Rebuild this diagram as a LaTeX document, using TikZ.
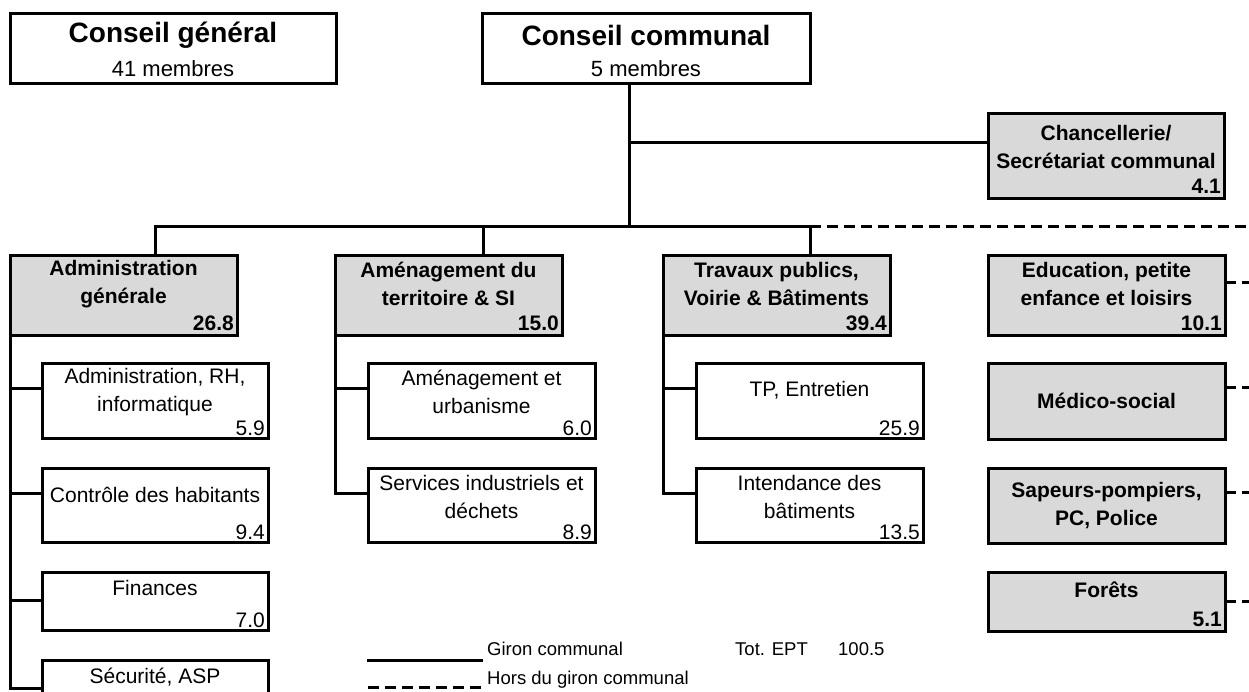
\documentclass[tikz,border=0pt]{standalone}
\usepackage{fontspec}
\setmainfont{Liberation Sans}
\definecolor{servgray}{RGB}{217,217,217}
\newcommand{\titlefnt}{\fontsize{28}{34}\selectfont\bfseries}
\newcommand{\membfnt}{\fontsize{22}{26}\selectfont}
\newcommand{\unitfnt}{\fontsize{21}{28}\selectfont}
\newcommand{\legfnt}{\fontsize{18.5}{22}\selectfont}
\begin{document}
\begin{tikzpicture}[x=1pt,y=-1pt,line join=miter,
	org/.style={draw,line width=3pt,inner sep=0pt,outer sep=0pt,anchor=north west,minimum width=227pt},
	serv/.style={org,fill=servgray},
	lbl/.style={font=\unitfnt,align=center,inner sep=0pt},
	blbl/.style={font=\unitfnt\bfseries,align=center,inner sep=0pt},
	num/.style={font=\unitfnt,anchor=base east,inner sep=0pt},
	bnum/.style={font=\unitfnt\bfseries,anchor=base east,inner sep=0pt},
	leg/.style={font=\legfnt,anchor=base west,inner sep=0pt},
	link/.style={line width=3pt,line cap=rect},
	ext/.style={line width=3pt,dash pattern=on 11pt off 6pt}]
	\useasboundingbox[fill=white] (0,0) rectangle (1249,691);
	\node[org,minimum width=326pt,minimum height=70pt] (cg) at (10,13) {};
	\node[font=\titlefnt] (cg-t) at ([yshift=-22pt]cg.north) {Conseil général};
	\node[font=\membfnt] (cg-m) at ([yshift=-56pt]cg.north) {41 membres};
	\node[org,minimum width=328pt,minimum height=70pt] (cc) at (482,13) {};
	\node[font=\titlefnt] (cc-t) at ([yshift=-22pt]cc.north) {Conseil communal};
	\node[font=\membfnt] (cc-m) at ([yshift=-56pt]cc.north) {5 membres};
	\node[serv,minimum width=236pt,minimum height=85pt] (chan) at (988,113) {};
	\node[blbl] (chan-t) at ([yshift=-34pt]chan.north) {Chancellerie/\\Secrétariat communal};
	\node[bnum] (chan-n) at ([xshift=-3pt,yshift=5pt]chan.south east) {4.1};
	\node[serv,minimum height=80pt] (adm) at (10,255) {};
	\node[blbl] (adm-t) at ([yshift=-29pt]adm.north) {Administration\\générale};
	\node[bnum] (adm-n) at ([xshift=-3pt,yshift=5pt]adm.south east) {26.8};
	\node[serv,minimum height=80pt] (ame) at (335,255) {};
	\node[blbl] (ame-t) at ([yshift=-29pt]ame.north) {Aménagement du\\territoire \& SI};
	\node[bnum] (ame-n) at ([xshift=-3pt,yshift=5pt]ame.south east) {15.0};
	\node[serv,minimum height=80pt] (tra) at (663,255) {};
	\node[blbl] (tra-t) at ([yshift=-29pt]tra.north) {Travaux publics,\\Voirie \& Bâtiments};
	\node[bnum] (tra-n) at ([xshift=-3pt,yshift=5pt]tra.south east) {39.4};
	\node[serv,minimum width=237pt,minimum height=80pt] (edu) at (988,255) {};
	\node[blbl] (edu-t) at ([yshift=-29pt]edu.north) {Education, petite\\enfance et loisirs};
	\node[bnum] (edu-n) at ([xshift=-3pt,yshift=5pt]edu.south east) {10.1};
	\node[org,minimum width=226pt,minimum height=75pt] (a1) at (42,363) {};
	\node[lbl] (a1-t) at ([yshift=-29pt]a1.north) {Administration, RH,\\informatique};
	\node[num] (a1-n) at ([xshift=-3pt,yshift=3pt]a1.south east) {5.9};
	\node[org,minimum width=226pt,minimum height=74pt] (a2) at (42,468) {};
	\node[lbl] (a2-t) at ([yshift=-27pt]a2.north) {Contrôle des habitants};
	\node[num] (a2-n) at ([xshift=-3pt,yshift=3pt]a2.south east) {9.4};
	\node[org,minimum width=226pt,minimum height=58pt] (a3) at (42,572) {};
	\node[lbl] (a3-t) at ([yshift=-16pt]a3.north) {Finances};
	\node[num] (a3-n) at ([xshift=-3pt,yshift=3pt]a3.south east) {7.0};
	\node[org,minimum width=226pt,minimum height=60pt] (a4) at (42,660) {};
	\node[lbl] (a4-t) at ([yshift=-17pt]a4.north) {Sécurité, ASP};
	\node[org,minimum height=75pt] (m1) at (368,363) {};
	\node[lbl] (m1-t) at ([yshift=-29pt]m1.north) {Aménagement et\\urbanisme};
	\node[num] (m1-n) at ([xshift=-3pt,yshift=3pt]m1.south east) {6.0};
	\node[org,minimum height=74pt] (m2) at (368,468) {};
	\node[lbl] (m2-t) at ([yshift=-29pt]m2.north) {Services industriels et\\déchets};
	\node[num] (m2-n) at ([xshift=-3pt,yshift=3pt]m2.south east) {8.9};
	\node[org,minimum height=75pt] (t1) at (696,363) {};
	\node[lbl] (t1-t) at ([yshift=-27pt]t1.north) {TP, Entretien};
	\node[num] (t1-n) at ([xshift=-3pt,yshift=3pt]t1.south east) {25.9};
	\node[org,minimum height=74pt] (t2) at (696,468) {};
	\node[lbl] (t2-t) at ([yshift=-29pt]t2.north) {Intendance des\\bâtiments};
	\node[num] (t2-n) at ([xshift=-3pt,yshift=3pt]t2.south east) {13.5};
	\node[serv,minimum width=237pt,minimum height=76pt] (med) at (988,363) {};
	\node[blbl] (med-t) at (med.center) {Médico-social};
	\node[serv,minimum width=237pt,minimum height=75pt] (sap) at (988,468) {};
	\node[blbl] (sap-t) at (sap.center) {Sapeurs-pompiers,\\PC, Police};
	\node[serv,minimum width=237pt,minimum height=59pt] (frt) at (988,572) {};
	\node[blbl] (frt-t) at ([yshift=-18pt]frt.north) {Forêts};
	\node[bnum] (frt-n) at ([xshift=-3pt,yshift=5pt]frt.south east) {5.1};
	\coordinate (hub) at (629,226);
	\coordinate (cj) at (629,142);
	\coordinate (busL) at (155,226);
	\coordinate (busM) at (483,226);
	\coordinate (busR) at (810,226);
	\coordinate (busE) at (1252,226);
	\draw[link] (cc.south -| hub) -- (hub);
	\draw[link] (cj) -- (cj -| chan.west);
	\draw[link] (busL) -- (busR);
	\draw[ext] (busR) -- (busE);
	\draw[link] (busL) -- (busL |- adm.north);
	\draw[link] (busM) -- (busM |- ame.north);
	\draw[link] (busR) -- (busR |- tra.north);
	\foreach \b/\d in {a1/25,a2/25,a3/28,a4/28}
		\draw[link] (adm.south west) |- ([yshift=-\d pt]\b.north west);
	\foreach \b in {m1,m2}
		\draw[link] (ame.south west) |- ([yshift=-25pt]\b.north west);
	\foreach \b in {t1,t2}
		\draw[link] (tra.south west) |- ([yshift=-25pt]\b.north west);
	\foreach \b/\d in {edu/27,med/24,sap/24,frt/29}
		\draw[ext] ([yshift=-\d pt]\b.north east) -- +(30,0);
	\coordinate (sA) at (368,660);
	\coordinate (sB) at (481,660);
	\coordinate (dA) at (368,687);
	\coordinate (dB) at (481,687);
	\draw[link] (sA) -- (sB);
	\draw[ext] (dA) -- (dB);
	\node[leg] (giron) at (487,655) {Giron communal};
	\node[leg] (hors) at (487,684) {Hors du giron communal};
	\node[leg] (tot) at (735,655) {Tot. EPT};
	\node[leg] (ept) at (838,655) {100.5};
\end{tikzpicture}
\end{document}
